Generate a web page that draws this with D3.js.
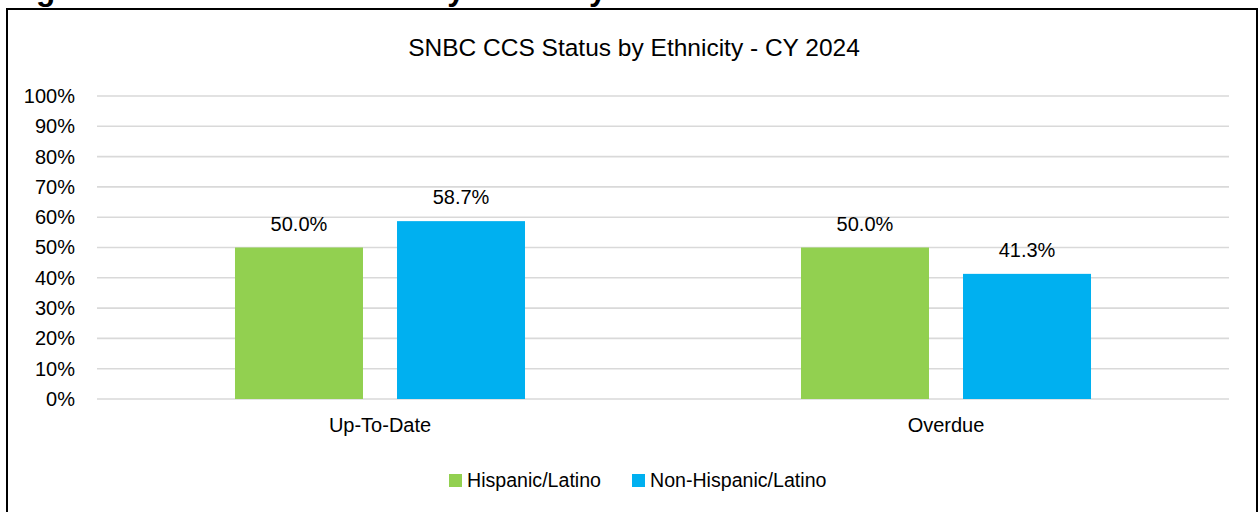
<!DOCTYPE html>
<html><head><meta charset="utf-8">
<script src="https://cdn.jsdelivr.net/npm/d3@7"></script>
<style>
html,body{margin:0;padding:0;background:#fff;overflow:hidden}
text{font-family:"Liberation Sans",Arial,sans-serif;fill:#000}
</style></head>
<body><svg id="c" width="1260" height="512"></svg>
<script>
const categories = ["Up-To-Date", "Overdue"];
const seriesNames = ["Hispanic/Latino", "Non-Hispanic/Latino"];
const hispanic = [50.0, 50.0];
const nonHispanic = [58.7, 41.3];
const yTicks = [0,10,20,30,40,50,60,70,80,90,100];
const colors = ["#92D050", "#00B0F0"];
const chartTitle = "SNBC CCS Status by Ethnicity - CY 2024";
const pageHeading = "Figure 8: SNBC CCS Status by Ethnicity";

const values = [hispanic, nonHispanic];
const svg = d3.select("#c");

// page heading (cut off at top edge, as in the source)
svg.append("text").attr("x", 8).attr("y", -0.5)
  .style("font-weight", "bold").style("font-size", "31.5px").text(pageHeading);

// chart frame
svg.append("rect").attr("x", 7).attr("y", 9).attr("width", 1250).attr("height", 520)
  .attr("fill", "#fff").attr("stroke", "#000").attr("stroke-width", 2);

const pL = 97, pR = 1229, pT = 96, pB = 399;
const y = d3.scaleLinear().domain([0, 100]).range([pB, pT]);
const x0 = d3.scaleBand().domain(categories).range([pL, pR]).paddingInner(0.4876).paddingOuter(0.2438);
const x1 = d3.scaleBand().domain(seriesNames).range([0, x0.bandwidth()]).paddingInner(0.21);

// gridlines
svg.append("g").selectAll("line").data(yTicks).join("line")
  .attr("x1", pL).attr("x2", pR)
  .attr("y1", d => y(d)).attr("y2", d => y(d))
  .attr("stroke", "#d9d9d9").attr("stroke-width", 1.6);

// y axis labels
const yAxis = d3.axisLeft(y).tickValues(yTicks).tickFormat(d => d + "%").tickSize(0).tickPadding(22);
const ya = svg.append("g").attr("transform", `translate(${pL},0)`).call(yAxis);
ya.select(".domain").remove();
ya.selectAll("text").style("font-size", "20px").attr("fill", "#000")
  .style("font-family", "'Liberation Sans',Arial,sans-serif");

// bars
const groups = svg.append("g").selectAll("g").data(categories).join("g")
  .attr("transform", d => `translate(${x0(d)},0)`);
groups.selectAll("rect").data((d, i) => seriesNames.map((s, j) => ({s, v: values[j][i], j})))
  .join("rect")
  .attr("x", d => x1(d.s)).attr("width", x1.bandwidth())
  .attr("y", d => y(d.v)).attr("height", d => y(0) - y(d.v))
  .attr("fill", d => colors[d.j]);
groups.selectAll("text.lbl").data((d, i) => seriesNames.map((s, j) => ({s, v: values[j][i], j})))
  .join("text").attr("class", "lbl")
  .attr("x", d => x1(d.s) + x1.bandwidth() / 2).attr("y", d => y(d.v) - 17)
  .attr("text-anchor", "middle").style("font-size", "20px")
  .text(d => d.v.toFixed(1) + "%");

// x axis labels
const xAxis = d3.axisBottom(x0).tickSize(0).tickPadding(19);
const xa = svg.append("g").attr("transform", `translate(0,${pB})`).call(xAxis);
xa.select(".domain").remove();
xa.selectAll("text").style("font-size", "20px").attr("fill", "#000")
  .style("font-family", "'Liberation Sans',Arial,sans-serif");

// title
svg.append("text").attr("x", 634).attr("y", 56).attr("text-anchor", "middle")
  .style("font-size", "24.5px").text(chartTitle);

// legend
const legendX = [449, 632];
const lg = svg.append("g").selectAll("g").data(seriesNames).join("g")
  .attr("transform", (d, i) => `translate(${legendX[i]},474)`);
lg.append("rect").attr("width", 13).attr("height", 13).attr("fill", (d, i) => colors[i]);
lg.append("text").attr("x", 18).attr("y", 13).style("font-size", "19.6px").text(d => d);
</script></body></html>
